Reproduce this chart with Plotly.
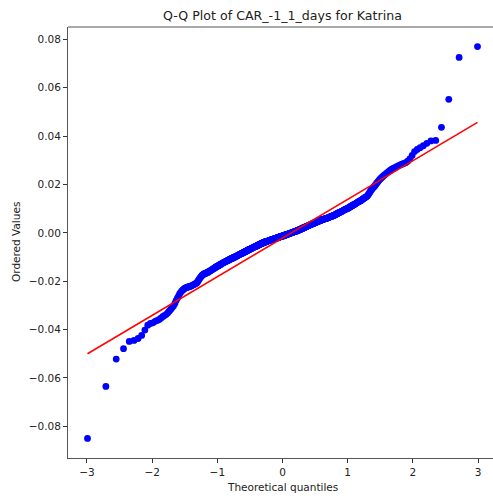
import numpy as np
import plotly.graph_objects as go
from statistics import NormalDist

title_text = "Q-Q Plot of CAR_-1_1_days for Katrina"
x_label = "Theoretical quantiles"
y_label = "Ordered Values"
x_ticks = [-3, -2, -1, 0, 1, 2, 3]
y_ticks = [-0.08, -0.06, -0.04, -0.02, 0.0, 0.02, 0.04, 0.06, 0.08]

# Fitted reference line: value at the first and last theoretical quantile
fit_line_ends = [-0.0500, 0.0457]

# Ordered (sorted) values, in units of 1e-4
lower_tail = [-850, -635, -522, -479, -449, -445, -437, -424, -402, -382, -375,
              -372, -366, -362, -358, -352, -346, -341, -337, -330, -323, -316,
              -309, -302, -292, -280, -270, -262, -252, -246, -240, -236, -232]
lower_body = [-229, -227, -226, -224, -223, -222, -221,
              -219, -217, -215, -214, -212, -210, -208, -205,
              -200, -195, -190, -186, -182, -178, -175, -173, -171,
              -169, -168, -167, -166, -165, -164, -162, -161, -159, -157, -156,
              -154, -153, -151, -150, -148, -146, -145, -143, -142, -140, -139,
              -138, -137, -136, -134, -133, -132, -130, -129, -128, -126, -125, -124, -123,
              -122, -121, -120, -119, -118, -117, -116, -115, -114, -113, -112, -111, -110, -109,
              -108, -107, -106, -106, -105, -104, -103, -102, -101, -101, -100, -99, -98, -97, -96,
              -95, -94, -93, -92, -91, -90, -89, -89, -88, -87, -86, -85, -84, -84, -83, -82,
              -81, -80, -80, -79, -78, -77, -76, -76, -75, -74, -73, -72, -71, -71, -70, -69, -68,
              -67, -67, -66, -65, -64, -64, -63, -62, -61, -61, -60, -59, -58, -58, -57, -56, -56, -55,
              -54, -54, -53, -52, -51, -51, -50, -49, -48, -48, -47, -46, -46, -45, -44, -44, -43, -42, -42,
              -41, -41, -40, -40, -39, -38, -38, -37, -37, -36, -36, -35, -35, -34, -34, -33, -33, -32, -32,
              -31, -31, -30, -30, -29, -29, -28, -28, -27, -27, -27, -26, -26, -25, -25, -24, -24, -24, -23, -23,
              -22, -22, -21, -21, -20, -20, -19, -19, -18, -18, -17, -17, -16, -16, -16, -15, -15, -14, -14, -13]
upper_body = [-13, -13, -12, -12, -11, -11, -10, -10, -9, -9, -8, -8, -7, -7, -6, -6, -5, -5, -4, -4,
              -3, -3, -2, -2, -1, -1, 0, 0, 1, 1, 2, 2, 3, 3, 4, 4, 5, 5, 6, 6,
              7, 7, 8, 8, 9, 10, 10, 11, 11, 12, 12, 13, 14, 14, 15, 15, 16, 17, 17,
              18, 19, 19, 20, 21, 21, 22, 23, 23, 24, 25, 25, 26, 27, 27, 28, 29, 29, 30,
              31, 31, 32, 33, 33, 34, 35, 35, 36, 37, 37, 38, 39, 39, 40, 41, 41, 42,
              43, 43, 44, 45, 45, 46, 47, 47, 48, 49, 49, 50, 50, 51, 52, 52, 53,
              54, 54, 55, 55, 56, 57, 57, 58, 58, 59, 59, 60, 60, 61, 61, 62,
              63, 63, 64, 65, 66, 66, 67, 68, 69, 69, 70, 71, 72, 72, 73,
              74, 75, 76, 77, 78, 79, 80, 81, 82, 83, 84, 85, 86, 87,
              88, 89, 90, 91, 92, 94, 95, 96, 97, 98, 99, 100, 101,
              102, 103, 105, 106, 108, 109, 110, 112, 113, 115, 116,
              117, 119, 120, 122, 124, 125, 127, 129, 130, 132, 133,
              135, 137, 139, 141, 143, 145, 147, 149, 151,
              155, 160, 165, 170, 175, 180, 184, 188,
              192, 197, 202, 207, 212, 217, 222]
upper_tail = [226, 230, 234, 238, 242, 246,
              250, 254, 258, 262, 265,
              268, 271, 275, 278,
              281, 284, 287, 290,
              296, 306, 320,
              336, 345, 352, 360, 370, 380, 382, 436,
              552, 725, 770]

osr = np.array(lower_tail + lower_body + upper_body + upper_tail, dtype=float) / 1e4
osr = np.sort(osr)
n = len(osr)

# Theoretical quantiles (Filliben's estimate, as in scipy.stats.probplot)
m = np.empty(n)
m[-1] = 0.5 ** (1.0 / n)
m[0] = 1.0 - m[-1]
idx = np.arange(2, n)
m[1:-1] = (idx - 0.3175) / (n + 0.365)
nd = NormalDist()
osm = np.array([nd.inv_cdf(float(p)) for p in m])

fit_x = [osm[0], osm[-1]]
fit_y = list(fit_line_ends)

# axis ranges with 5% margins like matplotlib; right part of axes is cropped
xpad = 0.05 * (osm.max() - osm.min())
x_lo, x_hi = osm.min() - xpad, osm.max() + xpad
ally = np.concatenate([osr, fit_y])
ypad = 0.05 * (ally.max() - ally.min())
y_lo, y_hi = ally.min() - ypad, ally.max() + ypad
x_hi_vis = x_lo + (x_hi - x_lo) * (425.0 / 429.0)

fig = go.Figure()
fig.add_trace(go.Scatter(x=osm, y=osr, mode="markers",
                         marker=dict(color="#0000ff", size=6.8, line=dict(width=0)),
                         showlegend=False, hoverinfo="skip"))
fig.add_trace(go.Scatter(x=fit_x, y=fit_y, mode="lines",
                         line=dict(color="#ff0000", width=1.5),
                         showlegend=False, hoverinfo="skip"))

font = dict(family="DejaVu Sans", size=10.5, color="#222222")
axis_common = dict(showgrid=False, zeroline=False, showline=True, linecolor="#555555",
                   linewidth=1, ticks="outside", ticklen=4, tickwidth=1, tickcolor="#333333",
                   tickfont=font)
fig.update_xaxes(range=[x_lo, x_hi_vis], tickvals=x_ticks,
                 ticktext=[("\u2212" if t < 0 else "") + str(abs(t)) for t in x_ticks],
                 **axis_common)
fig.update_yaxes(range=[y_lo, y_hi], tickvals=y_ticks, tickformat=".2f", **axis_common)

fig.add_shape(type="line", xref="paper", yref="paper", x0=0, x1=1, y0=1, y1=1,
              line=dict(color="#555555", width=1))

fig.add_annotation(text=x_label, xref="paper", yref="paper", x=(282.5 - 68) / 425,
                   y=(458 - 486.5) / 431, showarrow=False, xanchor="center", yanchor="middle",
                   font=font)
fig.add_annotation(text=y_label, xref="paper", yref="paper", x=(15.5 - 68) / 425,
                   y=0.5, showarrow=False, xanchor="center", yanchor="middle",
                   textangle=-90, font=font)

fig.update_layout(
    width=493, height=498,
    margin=dict(l=68, r=0, t=27, b=40, pad=0),
    plot_bgcolor="white", paper_bgcolor="white",
    title=dict(text=title_text, x=282.5 / 493, xanchor="center", xref="container",
               y=1 - 15.5 / 498, yanchor="middle", yref="container",
               font=dict(family="DejaVu Sans", size=12.6, color="#222222")),
)

fig.write_html("out.html")
